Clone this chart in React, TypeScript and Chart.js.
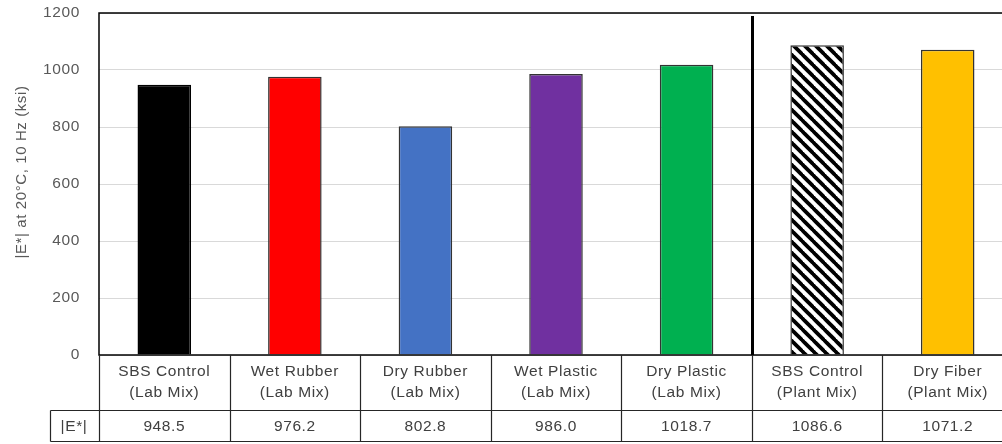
import React, { useEffect, useRef } from "react";
import { Chart, registerables } from "chart.js";

Chart.register(...registerables);

const categoriesLine1 = ["SBS Control", "Wet Rubber", "Dry Rubber", "Wet Plastic", "Dry Plastic", "SBS Control", "Dry Fiber"];
const categoriesLine2 = ["(Lab Mix)", "(Lab Mix)", "(Lab Mix)", "(Lab Mix)", "(Lab Mix)", "(Plant Mix)", "(Plant Mix)"];
const modulusValues = [948.5, 976.2, 802.8, 986.0, 1018.7, 1086.6, 1071.2];
const valueLabels = ["948.5", "976.2", "802.8", "986.0", "1018.7", "1086.6", "1071.2"];
const yTicks = [0, 200, 400, 600, 800, 1000, 1200];
const rowHeader = "|E*|";
const yTitle = "|E*| at 20°C, 10 Hz (ksi)";
const barColors = ["#000000", "#FF0000", "#4472C4", "#7030A0", "#00B050", "HATCH", "#FFC000"];

const W = 1016;
const H = 444;
const FONT = "Liberation Sans";

function makeHatch(): CanvasPattern | string {
  const s = 11;
  const c = document.createElement("canvas");
  c.width = s;
  c.height = s;
  const g = c.getContext("2d");
  if (!g) return "#000";
  g.fillStyle = "#ffffff";
  g.fillRect(0, 0, s, s);
  g.strokeStyle = "#000000";
  g.lineWidth = 3.8;
  for (const off of [-s, 0, s]) {
    g.beginPath();
    g.moveTo(off - 1, -1);
    g.lineTo(off + s + 1, s + 1);
    g.stroke();
  }
  const p = g.createPattern(c, "repeat");
  return p || "#000";
}

const tablePlugin = {
  id: "tablePlugin",
  afterDraw(chart: any) {
    const ctx = chart.ctx as CanvasRenderingContext2D;
    const area = chart.chartArea;
    const x = chart.scales.x;
    const y = chart.scales.y;
    const n = categoriesLine1.length;
    const step = x.getPixelForValue(1) - x.getPixelForValue(0);
    const edge = (i: number) => x.getPixelForValue(0) - step / 2 + i * step;
    const row1Bottom = 410.5;
    const row2Bottom = 441.5;
    ctx.save();
    (ctx as any).letterSpacing = "0.6px";

    // y tick labels
    ctx.fillStyle = "#595959";
    ctx.font = `15.5px "${FONT}"`;
    ctx.textAlign = "right";
    ctx.textBaseline = "middle";
    for (const t of yTicks) {
      ctx.fillText(String(t), 80, y.getPixelForValue(t));
    }

    // y title
    ctx.save();
    ctx.translate(22, (area.top + area.bottom) / 2 - 12);
    ctx.rotate(-Math.PI / 2);
    ctx.textAlign = "center";
    ctx.textBaseline = "middle";
    ctx.font = `15px "${FONT}"`;
    ctx.fillText(yTitle, 0, 0);
    ctx.restore();

    // plot border
    ctx.strokeStyle = "#000000";
    ctx.lineWidth = 1.5;
    ctx.strokeRect(area.left, area.top, area.right - area.left, area.bottom - area.top);

    // separator line
    const sx = Math.round(edge(5)) + 0.5;
    ctx.lineWidth = 3;
    ctx.beginPath();
    ctx.moveTo(sx, area.top + 3);
    ctx.lineTo(sx, area.bottom);
    ctx.stroke();

    // table lines
    ctx.strokeStyle = "#262626";
    ctx.lineWidth = 1.2;
    ctx.beginPath();
    for (let i = 0; i <= n; i++) {
      const ex = Math.round(edge(i)) + 0.5;
      ctx.moveTo(ex, area.bottom);
      ctx.lineTo(ex, row2Bottom);
    }
    ctx.moveTo(50.5, row1Bottom);
    ctx.lineTo(area.right + 2, row1Bottom);
    ctx.moveTo(50.5, row2Bottom);
    ctx.lineTo(area.right + 2, row2Bottom);
    ctx.moveTo(50.5, row1Bottom);
    ctx.lineTo(50.5, row2Bottom);
    ctx.stroke();

    // table text
    ctx.fillStyle = "#404040";
    ctx.font = `15.5px "${FONT}"`;
    ctx.textAlign = "center";
    ctx.textBaseline = "middle";
    for (let i = 0; i < n; i++) {
      const cx = (edge(i) + edge(i + 1)) / 2;
      ctx.fillText(categoriesLine1[i], cx, 372);
      ctx.fillText(categoriesLine2[i], cx, 393);
      ctx.fillText(valueLabels[i], cx, 427);
    }
    ctx.fillText(rowHeader, 74, 427);
    ctx.restore();
  },
};

export default function App() {
  const ref = useRef<HTMLCanvasElement | null>(null);
  useEffect(() => {
    if (!ref.current) return;
    const hatch = makeHatch();
    const colors = barColors.map((c) => (c === "HATCH" ? hatch : c));
    const borders = barColors.map((c) => (c === "#000000" ? "#000000" : "#333333"));
    const chart = new Chart(ref.current, {
      type: "bar",
      data: {
        labels: categoriesLine1,
        datasets: [
          {
            data: modulusValues,
            backgroundColor: colors as any,
            borderColor: borders,
            borderWidth: 1.5,
            barPercentage: 0.41,
            categoryPercentage: 1,
          },
        ],
      },
      options: {
        responsive: false,
        animation: false,
        devicePixelRatio: 1,
        layout: { padding: { left: 0, top: 13, right: W - 1013, bottom: 89 } },
        plugins: { legend: { display: false }, tooltip: { enabled: false } },
        scales: {
          x: { display: false },
          y: {
            min: 0,
            max: 1200,
            ticks: { stepSize: 200, display: false },
            grid: { color: "#d9d9d9", lineWidth: 1, drawTicks: false },
            border: { display: false },
            afterFit: (s: any) => {
              s.width = 99;
            },
          },
        },
      },
      plugins: [tablePlugin],
    });
    return () => chart.destroy();
  }, []);
  return (
    <div style={{ position: "fixed", left: 0, top: 0, width: 1002, height: H, overflow: "hidden", background: "#fff" }}>
      <canvas ref={ref} width={W} height={H} style={{ width: W, height: H, display: "block" }} />
    </div>
  );
}
